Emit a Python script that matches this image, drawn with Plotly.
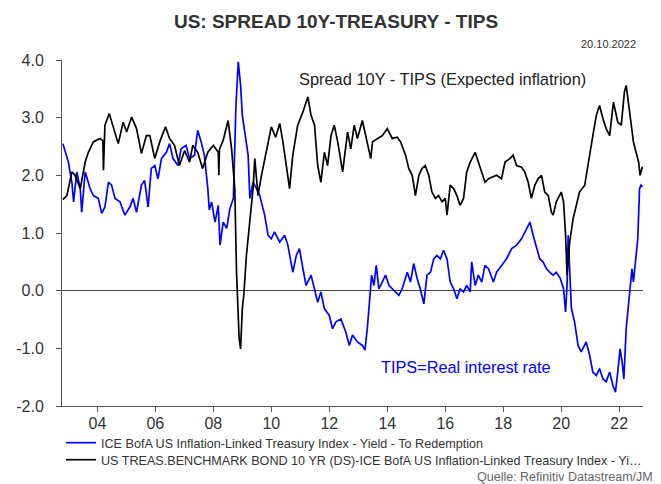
import plotly.graph_objects as go

# ---- data (decimal years, percent) ----
tips_years = [2002.81, 2002.89, 2003.0, 2003.12, 2003.18, 2003.29, 2003.41, 2003.46, 2003.58, 2003.75,
              2003.86, 2004.03, 2004.15, 2004.26, 2004.38, 2004.49, 2004.61, 2004.78, 2004.95, 2005.12,
              2005.23, 2005.35, 2005.52, 2005.63, 2005.75, 2005.86, 2005.98, 2006.09, 2006.21, 2006.38,
              2006.49, 2006.61, 2006.78, 2006.89, 2007.06, 2007.18, 2007.35, 2007.46, 2007.58, 2007.69,
              2007.81, 2007.86, 2007.94, 2008.06, 2008.17, 2008.23, 2008.34, 2008.46, 2008.57, 2008.69,
              2008.78, 2008.86, 2008.94, 2009.0, 2009.09, 2009.2, 2009.26, 2009.37, 2009.49, 2009.6,
              2009.77, 2009.89, 2010.0, 2010.11, 2010.29, 2010.46, 2010.57, 2010.74, 2010.86, 2010.97,
              2011.09, 2011.2, 2011.37, 2011.49, 2011.6, 2011.71, 2011.83, 2012.0, 2012.11, 2012.23,
              2012.4, 2012.57, 2012.69, 2012.8, 2012.97, 2013.14, 2013.23, 2013.31, 2013.39, 2013.46,
              2013.54, 2013.62, 2013.71, 2013.83, 2013.94, 2014.06, 2014.17, 2014.29, 2014.4, 2014.51,
              2014.69, 2014.8, 2014.91, 2015.03, 2015.14, 2015.26, 2015.37, 2015.49, 2015.6, 2015.71,
              2015.83, 2015.94, 2016.06, 2016.17, 2016.29, 2016.4, 2016.51, 2016.63, 2016.74, 2016.86,
              2016.91, 2017.03, 2017.14, 2017.26, 2017.37, 2017.49, 2017.66, 2017.77, 2017.94, 2018.11,
              2018.29, 2018.46, 2018.63, 2018.8, 2018.92, 2019.03, 2019.15, 2019.26, 2019.37, 2019.49,
              2019.6, 2019.72, 2019.83, 2019.97, 2020.08, 2020.15, 2020.2, 2020.24, 2020.35, 2020.46,
              2020.58, 2020.69, 2020.86, 2020.98, 2021.09, 2021.21, 2021.32, 2021.44, 2021.55, 2021.67,
              2021.78, 2021.87, 2021.95, 2022.03, 2022.1, 2022.16, 2022.24, 2022.35, 2022.44, 2022.49,
              2022.58, 2022.64, 2022.7, 2022.75, 2022.8]
tips_values = [2.55, 2.40, 2.23, 1.88, 1.54, 2.06, 1.77, 1.36, 2.06, 1.77,
               1.65, 1.60, 1.34, 1.45, 1.88, 1.83, 1.60, 1.54, 1.31, 1.45,
               1.60, 1.36, 1.83, 1.91, 1.45, 2.12, 2.17, 1.94, 2.29, 2.40,
               2.55, 2.29, 2.17, 2.46, 2.52, 2.29, 2.35, 2.78, 2.58, 2.35,
               1.77, 1.40, 1.54, 1.19, 1.48, 0.79, 1.19, 1.08, 1.42, 1.60,
               3.21, 3.97, 3.56, 3.04, 2.69, 2.35, 1.60, 1.88, 1.77, 1.65,
               1.31, 0.96, 0.90, 1.02, 0.84, 0.96, 0.79, 0.32, 0.61, 0.73,
               0.38, 0.09, 0.27, 0.03, -0.20, -0.02, -0.31, -0.43, -0.66, -0.54,
               -0.49, -0.72, -0.95, -0.77, -0.89, -0.95, -1.03, -0.66, -0.08, 0.27,
               0.09, 0.44, 0.03, 0.15, 0.27, 0.09, 0.03, -0.02, -0.08, 0.03,
               0.32, 0.15, 0.47, 0.21, 0.03, -0.23, 0.27, 0.32, 0.55, 0.61,
               0.55, 0.70, 0.55, 0.15, 0.03, -0.14, 0.03, -0.02, 0.09, -0.02,
               0.50, 0.09, 0.27, 0.15, 0.44, 0.38, 0.15, 0.32, 0.44, 0.55,
               0.73, 0.79, 0.90, 1.08, 1.19, 0.96, 0.73, 0.55, 0.50, 0.38,
               0.32, 0.27, 0.32, 0.21, 0.03, -0.37, 0.09, 0.96, -0.31, -0.54,
               -0.95, -1.06, -0.89, -1.12, -1.41, -1.47, -1.35, -1.53, -1.58, -1.41,
               -1.64, -1.76, -1.41, -1.01, -1.24, -1.53, -0.66, -0.08, 0.38, 0.15,
               0.55, 0.90, 1.77, 1.83, 1.80]

spread_years = [2002.81, 2002.95, 2003.12, 2003.23, 2003.41, 2003.58, 2003.69, 2003.86, 2004.09, 2004.19,
                2004.21, 2004.23, 2004.26, 2004.41, 2004.55, 2004.72, 2004.89, 2005.01, 2005.18, 2005.35,
                2005.52, 2005.69, 2005.81, 2005.98, 2006.15, 2006.35, 2006.49, 2006.66, 2006.83, 2007.01,
                2007.18, 2007.29, 2007.46, 2007.63, 2007.81, 2008.0, 2008.17, 2008.19, 2008.21, 2008.34,
                2008.51, 2008.63, 2008.74, 2008.8, 2008.89, 2008.94, 2009.0, 2009.05, 2009.14, 2009.26,
                2009.37, 2009.43, 2009.54, 2009.66, 2009.83, 2010.0, 2010.15, 2010.29, 2010.4, 2010.51,
                2010.63, 2010.74, 2010.91, 2011.09, 2011.26, 2011.37, 2011.49, 2011.6, 2011.71, 2011.83,
                2011.94, 2012.06, 2012.17, 2012.29, 2012.46, 2012.63, 2012.74, 2012.86, 2012.97, 2013.14,
                2013.26, 2013.43, 2013.49, 2013.66, 2013.83, 2014.0, 2014.17, 2014.34, 2014.46, 2014.63,
                2014.74, 2014.86, 2014.97, 2015.09, 2015.2, 2015.31, 2015.43, 2015.54, 2015.66, 2015.77,
                2015.89, 2016.0, 2016.06, 2016.17, 2016.29, 2016.4, 2016.51, 2016.63, 2016.74, 2016.86,
                2017.03, 2017.14, 2017.26, 2017.37, 2017.49, 2017.77, 2017.94, 2018.06, 2018.23, 2018.34,
                2018.46, 2018.63, 2018.74, 2018.86, 2018.97, 2019.09, 2019.2, 2019.32, 2019.43, 2019.55,
                2019.66, 2019.72, 2019.83, 2019.95, 2020.0, 2020.08, 2020.15, 2020.2, 2020.24, 2020.29,
                2020.41, 2020.52, 2020.63, 2020.81, 2020.98, 2021.09, 2021.21, 2021.32, 2021.44, 2021.55,
                2021.67, 2021.8, 2021.95, 2022.07, 2022.18, 2022.24, 2022.33, 2022.41, 2022.49, 2022.58,
                2022.67, 2022.72, 2022.8]
spread_values = [1.58, 1.65, 2.06, 2.00, 1.77, 2.23, 2.40, 2.58, 2.64, 2.60,
                 2.09, 2.70, 2.87, 3.07, 2.84, 2.55, 2.92, 2.75, 3.01, 2.81,
                 2.38, 2.69, 2.69, 2.29, 2.58, 2.84, 2.64, 2.52, 2.17, 2.43,
                 2.23, 2.52, 2.40, 2.12, 2.40, 2.52, 2.40, 2.00, 2.45, 2.61,
                 2.95, 2.46, 1.77, 0.32, -0.83, -1.01, -0.31, -0.08, 0.61, 1.25,
                 1.77, 2.29, 1.65, 2.00, 2.40, 2.84, 2.66, 2.90, 2.58, 2.23,
                 1.77, 2.35, 2.87, 3.10, 3.36, 3.04, 2.87, 2.17, 1.88, 2.40,
                 2.17, 2.69, 2.87, 2.58, 2.06, 2.75, 2.46, 2.87, 2.64, 2.95,
                 2.69, 2.29, 2.58, 2.64, 2.69, 2.81, 2.64, 2.66, 2.58, 2.35,
                 2.12, 2.00, 1.65, 2.00, 2.12, 2.17, 2.00, 1.71, 1.60, 1.65,
                 1.54, 1.60, 1.31, 1.83, 1.77, 1.65, 1.48, 1.60, 2.06, 2.23,
                 2.40, 2.23, 2.06, 1.88, 1.94, 2.00, 1.94, 2.23, 2.29, 2.35,
                 2.17, 2.14, 2.06, 1.88, 1.60, 1.83, 1.94, 2.00, 1.71, 1.65,
                 1.36, 1.31, 1.54, 1.65, 1.71, 1.54, 0.96, 0.27, 0.61, 0.84,
                 1.25, 1.48, 1.71, 1.83, 2.40, 2.69, 3.04, 3.21, 2.98, 2.81,
                 2.69, 3.27, 2.92, 2.87, 3.45, 3.56, 3.21, 2.92, 2.58, 2.40,
                 2.23, 2.00, 2.15]

x_tick_vals = [2004, 2006, 2008, 2010, 2012, 2014, 2016, 2018, 2020, 2022]
x_tick_text = ["04", "06", "08", "10", "12", "14", "16", "18", "20", "22"]
y_tick_vals = [-2, -1, 0, 1, 2, 3, 4]
y_tick_text = ["-2.0", "-1.0", "0.0", "1.0", "2.0", "3.0", "4.0"]

name_tips = "ICE BofA US Inflation-Linked Treasury Index - Yield - To Redemption"
name_spread = "US TREAS.BENCHMARK BOND 10 YR (DS)-ICE BofA US Inflation-Linked Treasury Index - Yi\u2026"

FONT = "Arial, 'Liberation Sans', sans-serif"
TXT = "#333333"
OFF = 8                       # page body margin of the browser
W, H = 661 - OFF, 484 - OFF   # figure size so it fits the window
PL, PR, PT, PB = 62, 643, 60, 406   # plot area in window pixels
L, R, T, B = PL - OFF, W - (PR - OFF), PT - OFF, H - (PB - OFF)

def wx(px):  # window x -> paper x
    return (px - PL) / (PR - PL)

def wy(py):  # window y -> paper y
    return (PB - py) / (PB - PT)

def cx(px):  # window x -> container x
    return (px - OFF) / W

def cy(py):  # window y -> container y
    return 1 - (py - OFF) / H

fig = go.Figure()
fig.add_trace(go.Scatter(x=tips_years, y=tips_values, mode="lines", name=name_tips,
                         line=dict(color="#0000FF", width=1.7), legend="legend"))
fig.add_trace(go.Scatter(x=spread_years, y=spread_values, mode="lines", name=name_spread,
                         line=dict(color="#000000", width=1.7), legend="legend2"))

fig.update_layout(
    width=W, height=H,
    margin=dict(l=L, r=R, t=T, b=B, autoexpand=False),
    paper_bgcolor="white", plot_bgcolor="white",
    font=dict(family=FONT, color=TXT),
    title=dict(text="<b>US: SPREAD 10Y-TREASURY - TIPS</b>", x=cx(336), xanchor="center",
               y=cy(21.7), yanchor="middle", font=dict(size=19, color=TXT, family=FONT)),
    xaxis=dict(range=[2002.78, 2022.82], tickvals=x_tick_vals, ticktext=x_tick_text,
               showline=True, linecolor="#555555", linewidth=1, ticks="outside", ticklen=5,
               tickcolor="#555555", showgrid=False, zeroline=False, automargin=False,
               tickfont=dict(size=16, color=TXT), ticklabelstandoff=-2),
    yaxis=dict(range=[-2, 4], tickvals=y_tick_vals, ticktext=y_tick_text,
               showline=True, linecolor="#555555", linewidth=1, ticks="outside", ticklen=5,
               tickcolor="#555555", showgrid=False, zeroline=True, zerolinecolor="#444444",
               zerolinewidth=1, tickfont=dict(size=16, color=TXT), ticklabelstandoff=9,
               automargin=False),
    legend=dict(x=cx(61), xref="container", xanchor="left", y=cy(443), yref="container",
                yanchor="middle", bgcolor="rgba(0,0,0,0)", font=dict(size=12.6, color=TXT, family=FONT)),
    legend2=dict(x=cx(61), xref="container", xanchor="left", y=cy(460), yref="container",
                 yanchor="middle", bgcolor="rgba(0,0,0,0)", font=dict(size=12.6, color=TXT, family=FONT)),
    showlegend=True,
)

fig.add_annotation(text="20.10.2022", xref="paper", yref="paper", x=wx(638), y=wy(44),
                   xanchor="right", yanchor="middle", showarrow=False,
                   font=dict(size=11, color=TXT))
fig.add_annotation(text="Quelle: Refinitiv Datastream/JM", xref="paper", yref="paper",
                   x=wx(655), y=wy(477), xanchor="right", yanchor="middle",
                   showarrow=False, font=dict(size=12.5, color="#666666"))
fig.add_annotation(text="Spread 10Y - TIPS (Expected inflatrion)", x=2015.89, y=3.67,
                   xanchor="center", yanchor="middle", showarrow=False,
                   font=dict(size=16.4, color="#222222"))
fig.add_annotation(text="TIPS=Real interest rate", x=2016.73, y=-1.32,
                   xanchor="center", yanchor="middle", showarrow=False,
                   font=dict(size=16.3, color="#0000FF"))

fig.write_html("out.html")
